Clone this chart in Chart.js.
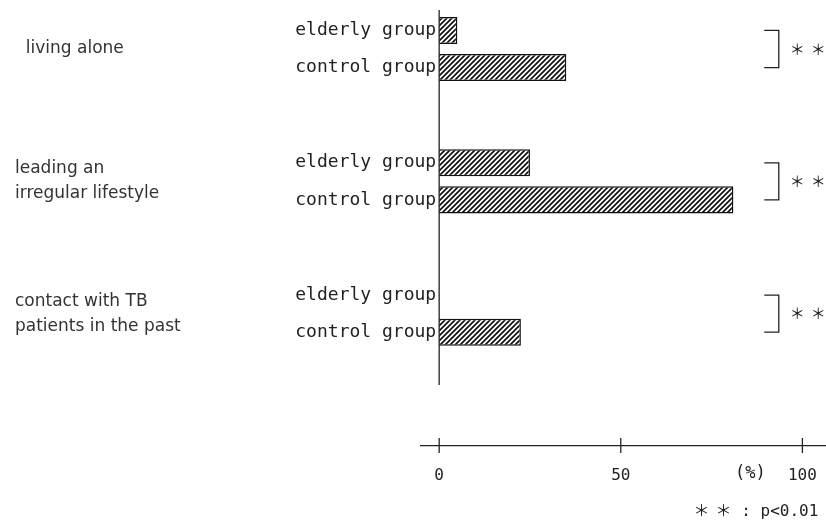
<!DOCTYPE html>
<html>
<head>
<meta charset="utf-8">
<script src="https://cdn.jsdelivr.net/npm/chart.js@4"></script>
<style>
  html, body { margin: 0; background: #fff; }
  #wrap { width: 826px; height: 526px; }
</style>
</head>
<body>
<div id="wrap"><canvas id="chart"></canvas></div>
<script>
// Risk factors, elderly vs control group (% of patients).
var categories = ['  living alone', ['leading an', 'irregular lifestyle'], ['contact with TB', 'patients in the past']];
var groups = ['elderly group', 'control group'];
var elderly = [5, 25, 0];
var control = [35, 81, 22.5];
var xTicks = [0, 50, 100];
var sigMarks = ['＊＊', '＊＊', '＊＊'];
var unitLabel = '(%)';
var footnoteMark = '＊＊';
var footnoteText = ': p<0.01';

var INK = '#222';
var MONO = '"DejaVu Sans Mono", "Noto Sans CJK JP"';

// diagonal hatching like the printed figure
function hatch() {
  var p = document.createElement('canvas');
  p.width = 5;
  p.height = 5;
  var g = p.getContext('2d');
  g.fillStyle = '#fff';
  g.fillRect(0, 0, 5, 5);
  g.strokeStyle = '#111';
  g.lineWidth = 1.7;
  g.beginPath();
  g.moveTo(0, 5); g.lineTo(5, 0);
  g.moveTo(-1, 1); g.lineTo(1, -1);
  g.moveTo(4, 6); g.lineTo(6, 4);
  g.stroke();
  return g.createPattern(p, 'repeat');
}

// axis line, crossing ticks, per-bar labels, significance brackets, footnote
var annotate = {
  id: 'annotate',
  afterDraw: function (chart) {
    var ctx = chart.ctx;
    var x = chart.scales.x;
    var area = chart.chartArea;
    var x0 = x.getPixelForValue(0);
    var x100 = x.getPixelForValue(100);
    ctx.save();
    ctx.strokeStyle = INK;
    ctx.lineWidth = 1.3;

    ctx.beginPath();
    ctx.moveTo(x0, area.top - 39);
    ctx.lineTo(x0, area.bottom - 61);
    ctx.stroke();

    xTicks.forEach(function (v) {
      var px = x.getPixelForValue(v);
      ctx.beginPath();
      ctx.moveTo(px, area.bottom - 8);
      ctx.lineTo(px, area.bottom + 7);
      ctx.stroke();
    });

    ctx.fillStyle = INK;
    ctx.font = '18px ' + MONO;
    ctx.textAlign = 'right';
    ctx.textBaseline = 'middle';
    chart.data.datasets.forEach(function (ds, d) {
      chart.getDatasetMeta(d).data.forEach(function (bar) {
        ctx.fillText(ds.label, x0 - 3, bar.y);
      });
    });

    var e = chart.getDatasetMeta(0).data;
    var c = chart.getDatasetMeta(1).data;
    var bx = x.getPixelForValue(93.5);
    var bl = x.getPixelForValue(89.5);
    ctx.textAlign = 'left';
    ctx.font = '15px "Noto Sans CJK JP"';
    ctx.letterSpacing = '6px';
    sigMarks.forEach(function (m, i) {
      var t = e[i].y, b = c[i].y;
      ctx.beginPath();
      ctx.moveTo(bl, t);
      ctx.lineTo(bx, t);
      ctx.lineTo(bx, b);
      ctx.lineTo(bl, b);
      ctx.stroke();
      ctx.fillText(m, bx + 11, (t + b) / 2);
    });

    ctx.font = '16px ' + MONO;
    ctx.fillText(footnoteMark, x100 - 109, area.bottom + 66);
    ctx.letterSpacing = '0px';
    ctx.textAlign = 'right';
    ctx.fillText(footnoteText, x100 + 16, area.bottom + 66);

    ctx.font = '17px ' + MONO;
    ctx.textAlign = 'center';
    ctx.fillText(unitLabel, x100 - 52, area.bottom + 28);
    ctx.restore();
  }
};

var pattern = hatch();

new Chart(document.getElementById('chart'), {
  type: 'bar',
  data: {
    labels: categories.concat(['']),
    datasets: [
      { label: groups[0], data: elderly, backgroundColor: pattern, borderColor: '#111' },
      { label: groups[1], data: control, backgroundColor: pattern, borderColor: '#111' }
    ]
  },
  options: {
    indexAxis: 'y',
    responsive: true,
    maintainAspectRatio: false,
    animation: false,
    layout: { padding: { left: 15, top: 49, right: 0, bottom: 0 } },
    datasets: {
      bar: {
        borderWidth: 1.5,
        categoryPercentage: 0.56,
        barPercentage: 0.73,
        clip: false
      }
    },
    plugins: { legend: { display: false }, tooltip: { enabled: false } },
    scales: {
      x: {
        min: -5,
        max: 106.5,
        afterBuildTicks: function (s) {
          s.ticks = xTicks.map(function (v) { return { value: v }; });
        },
        grid: { display: false },
        border: { color: INK, width: 1.3 },
        ticks: { color: INK, font: { family: MONO, size: 16 }, padding: 12 },
        afterFit: function (s) {
          s.height = 80;
          s.paddingLeft = 0;
          s.paddingRight = 0;
        }
      },
      y: {
        offset: false,
        grid: { display: false },
        border: { display: false },
        ticks: {
          autoSkip: false,
          crossAlign: 'far',
          color: '#333',
          font: { family: 'DejaVu Sans', size: 17, lineHeight: 1.47 }
        },
        afterFit: function (s) { s.width = 406; }
      }
    }
  },
  plugins: [annotate]
});
</script>
</body>
</html>
